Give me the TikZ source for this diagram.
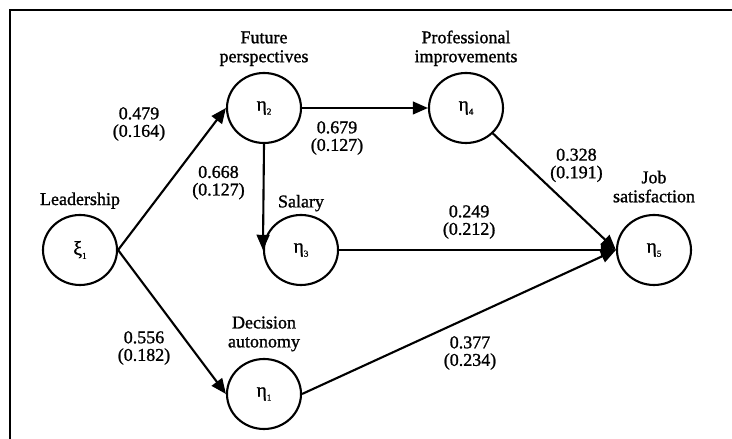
\documentclass[tikz,border=0pt]{standalone}
\usepackage{fontspec}
\setmainfont{Liberation Serif}[FakeBold=1.2]
\usetikzlibrary{shapes.geometric, arrows.meta, positioning}
\newcommand{\idx}[1]{\raisebox{-0.45ex}{\fontsize{6.5pt}{6.5pt}\selectfont #1}}
\tikzstyle{latent} = [ellipse, minimum width=1.85cm, minimum height=1.75cm, inner sep=0pt, draw=black, line width=1.5pt, font=\fontsize{14pt}{14pt}\selectfont]
\tikzstyle{caption} = [align=center, inner sep=0pt, font=\fontsize{12.8pt}{13.5pt}\selectfont]
\tikzstyle{coef} = [align=center, inner sep=0pt, font=\fontsize{12.8pt}{12.5pt}\selectfont]
\tikzstyle{arrow} = [line width=1.5pt, -{Triangle[length=0.38cm, width=0.32cm]}]

\begin{document}
\begin{tikzpicture}[node distance=4.6cm, font=\fontsize{12.8pt}{13pt}\selectfont]

\useasboundingbox (0,0) rectangle (18.3,10.975);
\draw [line width=1.9pt] (0.25,0) |- (18.3,10.725);

\node (xi1) [latent] at (2,4.725) {ξ\idx{1}};
\node (eta2) [latent, right of=xi1, yshift=3.55cm] {η\idx{2}};
\node (eta1) [latent, right of=xi1, yshift=-3.6cm] {η\idx{1}};
\node (eta3) [latent, right of=xi1, xshift=0.925cm] {η\idx{3}};
\node (eta4) [latent, right of=eta2, xshift=0.45cm] {η\idx{4}};
\node (eta5) [latent, right of=eta4, xshift=0.1cm, yshift=-3.55cm] {η\idx{5}};

\node (lead) [caption, above=0.12cm of xi1] {Leadership};
\node (fut) [caption, above=0.14cm of eta2] {Future\\perspectives};
\node (prof) [caption, above=0.14cm of eta4] {Professional\\improvements};
\node (sal) [caption, above=0.06cm of eta3] {Salary};
\node (job) [caption, above=0.28cm of eta5] {Job\\satisfaction};
\node (dec) [caption, above=0.16cm of eta1] {Decision\\autonomy};

\draw [arrow] (xi1.east) -- node[coef, pos=0.5, xshift=-0.825cm, yshift=1.375cm] (c21) {0.479\\(0.164)} (eta2.west);
\draw [arrow] (xi1.east) -- node[coef, pos=0.5, xshift=-0.7cm, yshift=-0.65cm] (c11) {0.556\\(0.182)} (eta1.west);
\draw [arrow] (eta2.south) -- node[coef, pos=0.5, xshift=-1.125cm, yshift=0.36cm] (c32) {0.668\\(0.127)} (eta3.west);
\draw [arrow] (eta2.east) -- node[coef, pos=0.5, xshift=-0.7cm, yshift=-0.75cm] (c42) {0.679\\(0.127)} (eta4.west);
\draw [arrow] (eta4) -- node[coef, pos=0.5, xshift=0.55cm, yshift=0.66cm] (c54) {0.328\\(0.191)} (eta5.west);
\draw [arrow] (eta3.east) -- node[coef, pos=0.5, xshift=-0.21cm, yshift=0.7cm] (c53) {0.249\\(0.212)} (eta5.west);
\draw [arrow] (eta1.east) -- node[coef, pos=0.5, xshift=0.275cm, yshift=-0.775cm] (c51) {0.377\\(0.234)} (eta5.west);

\end{tikzpicture}
\end{document}
